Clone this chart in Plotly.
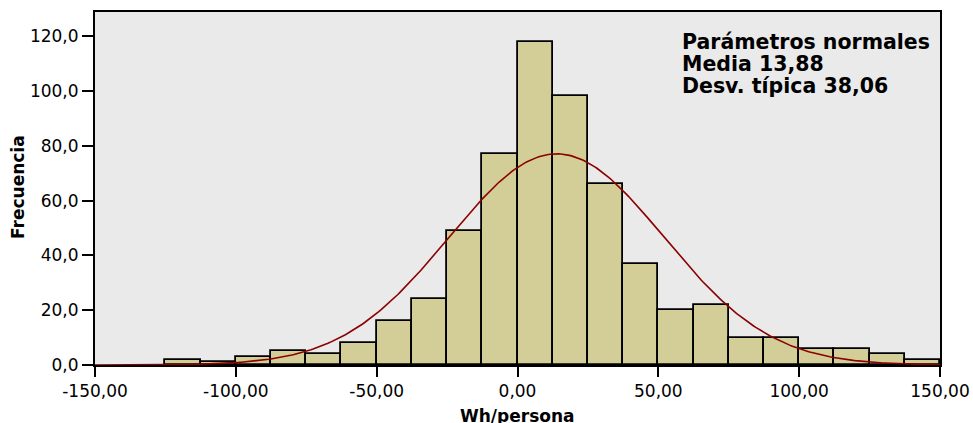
import numpy as np
import plotly.graph_objects as go

# Bin edges (left edges) and counts
bin_left = [-125.0, -112.5, -100.0, -87.5, -75.0, -62.5, -50.0, -37.5, -25.0, -12.5,
            0.0, 12.5, 25.0, 37.5, 50.0, 62.5, 75.0, 87.5, 100.0, 112.5, 125.0, 137.5]
counts = [2, 1, 3, 5, 4, 8, 16, 24, 49, 77, 118, 98, 66, 37, 20, 22, 10, 10, 6, 6, 4, 2]
bin_width = 12.5

mean = 13.88
sd = 38.06

x_ticks = [-150, -100, -50, 0, 50, 100, 150]
x_tick_labels = ["-150,00", "-100,00", "-50,00", "0,00", "50,00", "100,00", "150,00"]
y_ticks = [0, 20, 40, 60, 80, 100, 120]
y_tick_labels = ["0,0", "20,0", "40,0", "60,0", "80,0", "100,0", "120,0"]

legend_lines = ["Parámetros normales", "Media 13,88", "Desv. típica 38,06"]

n_total = sum(counts)
centers = [b + bin_width / 2 for b in bin_left]

xc = np.linspace(-150, 150, 400)
yc = n_total * bin_width / (sd * np.sqrt(2 * np.pi)) * np.exp(-0.5 * ((xc - mean) / sd) ** 2)

fig = go.Figure()
fig.add_trace(go.Bar(
    x=centers, y=counts, width=bin_width,
    marker=dict(color="#D3CE97", line=dict(color="#000000", width=1.8)),
    showlegend=False, hoverinfo="x+y"))
fig.add_trace(go.Scatter(
    x=xc, y=yc, mode="lines",
    line=dict(color="#8B0000", width=1.6), showlegend=False))

font_family = "DejaVu Sans, Liberation Sans, sans-serif"

annotations = []
for txt, yp in zip(legend_lines, [0.915, 0.853, 0.790]):
    annotations.append(dict(
        text="<b>" + txt + "</b>", xref="paper", yref="paper", x=0.692, y=yp,
        xanchor="left", yanchor="middle", align="left", showarrow=False,
        font=dict(size=20.5, family=font_family, color="#000000")))
annotations.append(dict(
    text="<b>Wh/persona</b>", xref="paper", yref="paper",
    x=0.5, y=-0.1445, xanchor="center", yanchor="middle", showarrow=False,
    font=dict(size=17, family=font_family)))
annotations.append(dict(
    text="<b>Frecuencia</b>", xref="paper", yref="paper",
    x=-0.0905, y=0.503, xanchor="center", yanchor="middle", textangle=-90,
    showarrow=False, font=dict(size=17, family=font_family)))

fig.update_layout(
    width=973, height=423,
    margin=dict(l=95, r=33, t=12, b=58),
    paper_bgcolor="#FFFFFF",
    plot_bgcolor="#EAEAEA",
    separators=",.",
    bargap=0,
    font=dict(family=font_family, size=17, color="#000000"),
    xaxis=dict(
        range=[-150, 150], tickvals=x_ticks, ticktext=x_tick_labels,
        showgrid=False, zeroline=False, automargin=False,
        showline=True, linecolor="#000000", linewidth=2, mirror=True,
        ticks="outside", ticklen=10, tickwidth=1.5, tickcolor="#000000",
        tickfont=dict(size=17)),
    yaxis=dict(
        range=[0, 128.8], tickvals=y_ticks, ticktext=y_tick_labels,
        showgrid=False, zeroline=False, automargin=False,
        showline=True, linecolor="#000000", linewidth=2, mirror=True,
        ticks="outside", ticklen=11, tickwidth=1.5, tickcolor="#000000",
        tickfont=dict(size=17)),
    annotations=annotations,
)

fig.write_html("out.html",
               config={"displayModeBar": False},
               post_script="document.body.style.margin='0';document.body.style.padding='0';")
